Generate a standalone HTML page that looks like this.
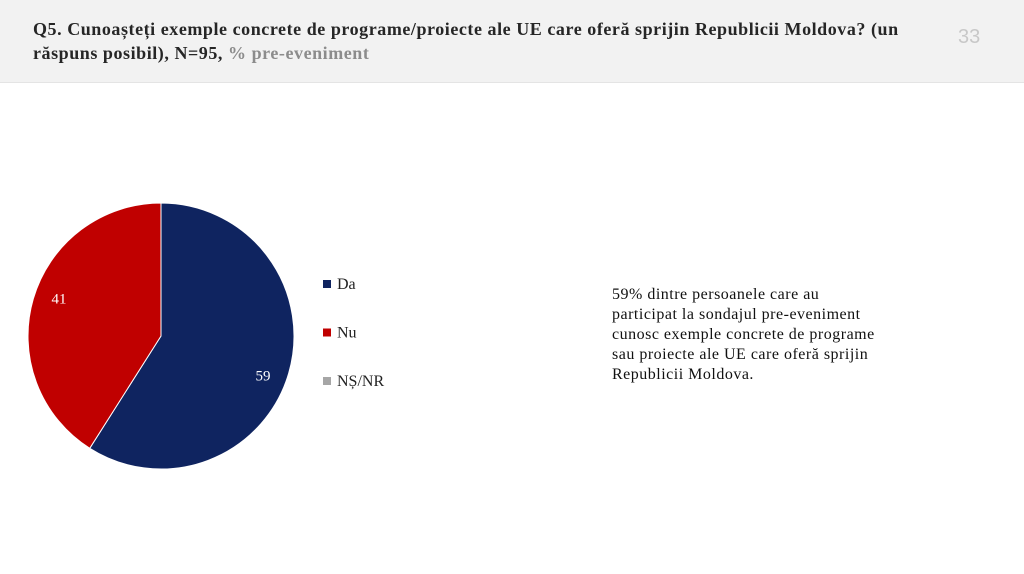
<!DOCTYPE html>
<html><head><meta charset="utf-8"><style>
body{margin:0;width:1024px;height:574px;background:#fff;position:relative;overflow:hidden;font-family:"Liberation Serif",serif}
#hdr{position:absolute;left:0;top:0;width:1024px;height:82px;background:#f2f2f2;border-bottom:1px solid #e4e4e4}
#title{position:absolute;left:33px;top:17px;width:900px;white-space:nowrap;font-size:18px;font-weight:bold;line-height:24px;color:#262626;letter-spacing:0.55px}
#title span{color:#8c8c8c}
#pg{position:absolute;left:958px;top:26px;font-family:"Liberation Sans",sans-serif;font-size:20px;color:#c8c8c8}
#note{position:absolute;left:612px;top:285px;width:320px;white-space:nowrap;font-size:16px;line-height:20px;color:#111;letter-spacing:0.5px}
</style></head><body>
<div id="hdr"></div>
<div id="title">Q5. Cunoașteți exemple concrete de programe/proiecte ale UE care oferă sprijin Republicii Moldova? (un<br>răspuns posibil), N=95, <span>% pre-eveniment</span></div>
<div id="pg">33</div>
<svg id="chart" width="1024" height="574" style="position:absolute;left:0;top:0"></svg>
<div id="note">59% dintre persoanele care au<br>participat la sondajul pre-eveniment<br>cunosc exemple concrete de programe<br>sau proiecte ale UE care oferă sprijin<br>Republicii Moldova.</div>
<script>
const categories=["Da","Nu","NȘ/NR"];
const values=[59,41,0];
const colors=["#0f2460","#c00000","#a6a6a6"];
const svg=document.getElementById('chart');
const NS="http://www.w3.org/2000/svg";
const cx=161,cy=336,r=133;
const total=values.reduce((a,b)=>a+b,0);
let ang=0;
values.forEach((v,i)=>{
  if(v<=0)return;
  const a0=ang,a1=ang+v/total*2*Math.PI;ang=a1;
  const p=(a)=>[cx+r*Math.sin(a),cy-r*Math.cos(a)];
  const [x0,y0]=p(a0),[x1,y1]=p(a1);
  const path=document.createElementNS(NS,'path');
  path.setAttribute('d',`M${cx},${cy}L${x0},${y0}A${r},${r} 0 ${a1-a0>Math.PI?1:0} 1 ${x1},${y1}Z`);
  path.setAttribute('fill',colors[i]);path.setAttribute('stroke','#fff');path.setAttribute('stroke-width','1');
  
  
  svg.appendChild(path);
  const m=(a0+a1)/2+0.08,lr=r*0.82;
  const t=document.createElementNS(NS,'text');
  t.setAttribute('x',cx+lr*Math.sin(m));t.setAttribute('y',cy-lr*Math.cos(m)+6);
  t.setAttribute('text-anchor','middle');t.setAttribute('fill','#fff');t.setAttribute('font-size','15');
  t.setAttribute('font-family','Liberation Serif, serif');
  t.textContent=v;
  
  
  svg.appendChild(t);
});
categories.forEach((c,i)=>{
  const y=284+i*48.5;
  const g=document.createElementNS(NS,'g');
  
  
  const rc=document.createElementNS(NS,'rect');
  rc.setAttribute('x',323);rc.setAttribute('y',y-4);rc.setAttribute('width',8);rc.setAttribute('height',8);rc.setAttribute('fill',colors[i]);
  const t=document.createElementNS(NS,'text');
  t.setAttribute('x',337);t.setAttribute('y',y+5);t.setAttribute('font-size','16');t.setAttribute('fill','#222');
  t.setAttribute('font-family','Liberation Serif, serif');t.textContent=c;
  g.appendChild(rc);g.appendChild(t);svg.appendChild(g);
});
</script>
</body></html>
